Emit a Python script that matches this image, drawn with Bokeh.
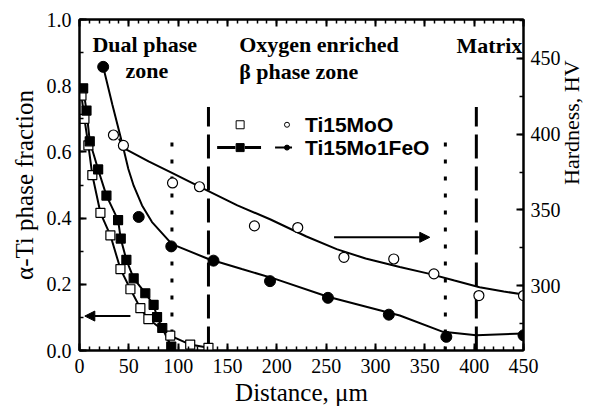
import math
from bokeh.plotting import figure
from bokeh.models import (LinearAxis, Range1d, SingleIntervalTicker, PrintfTickFormatter,
                          Arrow, NormalHead, Label)
from bokeh.embed import file_html
from bokeh.resources import INLINE

# ---------------- data ----------------
# alpha-Ti phase fraction vs distance (um)
moo_frac_x = [2, 5, 9, 13, 21.2, 31.3, 41.5, 51.6, 61.7, 69.8, 92, 112.2, 130.7]
moo_frac = [0.77, 0.70, 0.62, 0.53, 0.416, 0.348, 0.246, 0.185, 0.128, 0.095, 0.045, 0.018, 0.008]
fe_frac_x = [3.7, 7.1, 10.4, 18.9, 27.3, 39.1, 41.8, 47.5, 54.9, 66.7, 75.1, 78.6, 83.9, 93.0]
fe_frac = [0.792, 0.725, 0.632, 0.547, 0.468, 0.394, 0.338, 0.274, 0.218, 0.173, 0.138, 0.101, 0.068, 0.012]

# hardness (HV) vs distance (um)
moo_hv_x = [34.4, 44.5, 94.3, 121.6, 177.3, 221.2, 268.0, 318.5, 359.2, 404.8, 450]
moo_hv = [399.4, 392.5, 367.8, 365.3, 339.5, 338.4, 318.8, 317.7, 307.9, 293.6, 293.6]
fe_hv_x = [24.0, 60.0, 93.0, 135.8, 193.1, 251.8, 313.5, 371.8, 450]
fe_hv = [444.3, 345.4, 326.0, 316.6, 303.1, 292.1, 281.0, 266.4, 267.4]

# fitted hardness curves
moo_fit_x = [40, 44.8, 70, 93.7, 130.7, 160, 193.1, 230, 260.6, 290, 324.6, 354.9, 380, 405.5, 430, 450]
moo_fit_hv = [397.0, 390.8, 382.0, 374.5, 362.4, 353.0, 343.9, 332.5, 324.2, 318.0, 312.4, 307.9, 303.5, 299.1, 296.3, 294.3]
fe_fit_x = [24, 33.4, 43.2, 49.5, 54.9, 63.4, 73.5, 93.7, 130.7, 164.5, 198.2, 251.8, 324.6, 368.4, 402.2, 450]
fe_fit_hv = [444.3, 419.2, 394.1, 377.0, 366.0, 353.0, 342.0, 327.5, 317.7, 311.1, 304.6, 292.8, 280.5, 269.7, 267.4, 268.6]

# zone boundaries
dotted_x = [93.7, 370.8]
dotted_top = [0.646, 0.646]
dashed_x = [130.7, 402.2]
dashed_top = [0.736, 0.736]

series_names = ["Ti15MoO", "Ti15Mo1FeO"]
zone_texts = ["Dual phase", "zone", "Oxygen enriched", "\u03b2 phase zone", "Matrix"]
x_tick_values = list(range(0, 451, 50))

X_RANGE = (0, 450)
FRAC_RANGE = (0, 1)
HV_RANGE = (257.4, 475.5)

# ---------------- figure ----------------
p = figure(width=599, height=408, x_range=Range1d(*X_RANGE), y_range=Range1d(*FRAC_RANGE),
           output_backend="svg", toolbar_location=None,
           min_border_left=79, min_border_right=74, min_border_top=19, min_border_bottom=56)
p.extra_y_ranges = {"hv": Range1d(*HV_RANGE)}
p.grid.visible = False
p.outline_line_color = "black"
p.outline_line_width = 2
p.background_fill_color = "white"
p.border_fill_color = "white"

TICK_FONT = "Liberation Serif"
LABEL_FONT = "Liberation Serif"


def style_axis(ax):
    ax.axis_line_width = 2
    ax.major_tick_in = 7
    ax.major_tick_out = 0
    ax.minor_tick_in = 4
    ax.minor_tick_out = 0
    ax.major_tick_line_width = 2
    ax.minor_tick_line_width = 1.5
    ax.major_label_text_font = TICK_FONT
    ax.major_label_text_font_size = "20px"
    ax.major_label_text_color = "black"
    ax.axis_label_text_font = LABEL_FONT
    ax.axis_label_text_font_size = "25px"
    ax.axis_label_text_font_style = "normal"
    ax.axis_label_text_color = "black"


p.xaxis.ticker = SingleIntervalTicker(interval=50, num_minor_ticks=5)
p.xaxis.axis_label = "Distance, \u03bcm"
p.xaxis.major_label_standoff = 8
p.xaxis.axis_label_standoff = 3
style_axis(p.xaxis[0])

p.yaxis.ticker = SingleIntervalTicker(interval=0.2, num_minor_ticks=2)
p.yaxis.formatter = PrintfTickFormatter(format="%.1f")
p.yaxis.axis_label = "\u03b1-Ti phase fraction"
p.yaxis.major_label_standoff = 8
p.yaxis.axis_label_standoff = 6
style_axis(p.yaxis[0])

top_ax = LinearAxis(ticker=SingleIntervalTicker(interval=50, num_minor_ticks=5))
style_axis(top_ax)
top_ax.major_label_overrides = {v: "" for v in x_tick_values}
top_ax.major_label_standoff = 0
p.add_layout(top_ax, "above")

right_ax = LinearAxis(y_range_name="hv", ticker=SingleIntervalTicker(interval=50, num_minor_ticks=2))
style_axis(right_ax)
right_ax.major_label_standoff = 7
right_ax.axis_label = "Hardness, HV"
right_ax.axis_label_standoff = 8
right_ax.axis_label_text_font_size = "22px"
if "axis_label_orientation" in right_ax.properties():
    right_ax.axis_label_orientation = math.pi / 2
p.add_layout(right_ax, "right")

# zone boundary lines
p.segment(x0=dotted_x, y0=[0] * len(dotted_x), x1=dotted_x, y1=dotted_top,
          line_color="black", line_width=3, line_dash="4 13")
p.segment(x0=dashed_x, y0=[0] * len(dashed_x), x1=dashed_x, y1=dashed_top,
          line_color="black", line_width=3, line_dash="24 8")

# phase fraction curves
p.line(moo_frac_x, moo_frac, line_color="black", line_width=2)
p.line(fe_frac_x, fe_frac, line_color="black", line_width=2)
p.scatter(moo_frac_x, moo_frac, marker="square", size=9, fill_color="white",
          line_color="black", line_width=1.2)
p.scatter(fe_frac_x, fe_frac, marker="square", size=9, fill_color="black",
          line_color="black", line_width=1.2)

# hardness curves
p.line(moo_fit_x, moo_fit_hv, y_range_name="hv", line_color="black", line_width=2)
p.line(fe_fit_x, fe_fit_hv, y_range_name="hv", line_color="black", line_width=2)
p.scatter(moo_hv_x, moo_hv, y_range_name="hv", marker="circle", size=10,
          fill_color="white", line_color="black", line_width=1.2)
p.scatter(fe_hv_x, fe_hv, y_range_name="hv", marker="circle", size=11,
          fill_color="black", line_color="black")

# arrows
p.add_layout(Arrow(end=NormalHead(size=10, fill_color="black", line_color="black"),
                   x_start=51.6, y_start=0.104, x_end=5.4, y_end=0.104,
                   line_width=2, line_color="black"))
p.add_layout(Arrow(end=NormalHead(size=10, fill_color="black", line_color="black"),
                   x_start=258, y_start=332, x_end=355, y_end=332, y_range_name="hv",
                   line_width=2, line_color="black"))

# zone texts
zone_pos = [(13.1, 0.925), (46.5, 0.847), (161.8, 0.925), (161.8, 0.844), (382.0, 0.922)]
for t, (x, y) in zip(zone_texts, zone_pos):
    p.add_layout(Label(x=x, y=y, text=t, text_font="Liberation Serif", text_font_style="bold",
                       text_font_size="22px", text_color="black", text_baseline="alphabetic"))

# legend (hand-built)
leg_y = [0.682, 0.613]
p.scatter([162.8], [leg_y[0]], marker="square", size=8, fill_color="white", line_color="black", line_width=1)
p.scatter([210.3], [leg_y[0]], marker="circle", size=5, fill_color="white", line_color="black", line_width=1)
p.segment(x0=[139.5, 167.5], y0=[leg_y[1]] * 2, x1=[158.0, 184.0], y1=[leg_y[1]] * 2,
          line_color="black", line_width=3)
p.scatter([162.8], [leg_y[1]], marker="square", size=8, fill_color="black", line_color="black")
p.segment(x0=[198.2], y0=[leg_y[1]], x1=[215.4], y1=[leg_y[1]], line_color="black", line_width=2)
p.scatter([210.3], [leg_y[1]], marker="circle", size=5, fill_color="black", line_color="black")
for name, y in zip(series_names, leg_y):
    p.add_layout(Label(x=228.5, y=y, text=name, text_font="Liberation Sans", text_font_style="bold",
                       text_font_size="21px", text_color="black", text_baseline="middle"))

open("out.html", "w").write(file_html(p, INLINE))
